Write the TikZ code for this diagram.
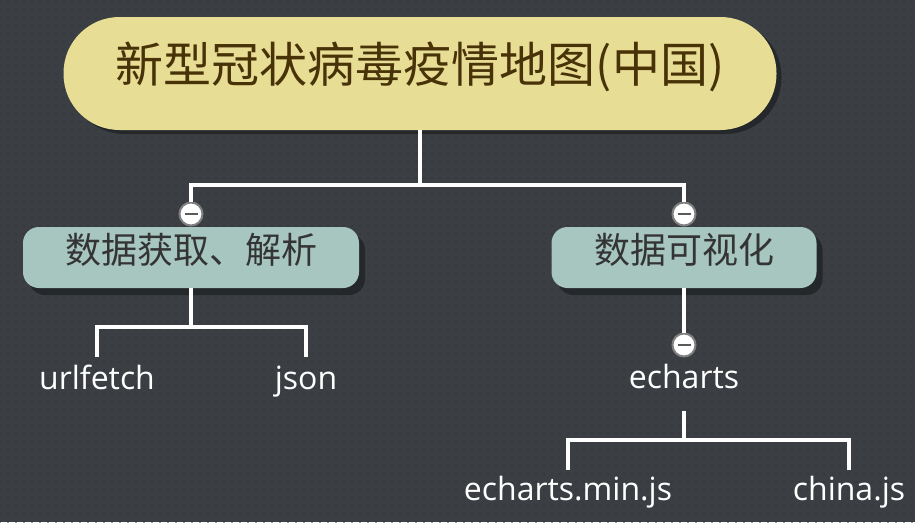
\documentclass[tikz,border=0pt]{standalone}
\usepackage{fontspec}
\setmainfont{Open Sans}
\newfontfamily\cjk{Noto Sans CJK SC}
\usetikzlibrary{shadows,patterns.meta}

\begin{document}
\begin{tikzpicture}[
    x=1pt, y=-1pt,
    root/.style={
        rectangle,
        rounded corners=56pt,
        fill=rootfill,
        minimum width=713pt,
        minimum height=113pt,
        text=roottext,
        font=\cjk\fontsize{48}{52}\selectfont,
        text height=34pt, text depth=16pt,
        drop shadow={shadow xshift=5pt, shadow yshift=-4pt, opacity=1, fill=shadowcol}
    },
    topic/.style={
        rectangle,
        rounded corners=16pt,
        fill=topicfill,
        minimum height=61pt,
        text=topictext,
        font=\cjk\fontsize{36}{40}\selectfont,
        text height=26pt, text depth=14pt,
        drop shadow={shadow xshift=6pt, shadow yshift=-7pt, opacity=1, fill=shadowcol}
    },
    fold/.style={
        circle,
        draw=foldgray,
        line width=2pt,
        fill=white,
        minimum size=23pt,
        inner sep=0pt,
        path picture={
            \draw[line width=2pt, foldline]
                ([xshift=-6.5pt]path picture bounding box.center) --
                ([xshift=6.5pt]path picture bounding box.center);
        }
    },
    leaf/.style={
        text=white,
        font=\fontsize{32}{36}\selectfont,
        inner sep=0pt,
        text height=26pt, text depth=8pt,
        anchor=base
    },
    conn/.style={draw=white, line width=4.2pt}
]

% 색 정의
\definecolor{bgcol}{RGB}{59,63,67}
\definecolor{dotcol}{RGB}{48,52,56}
\definecolor{rootfill}{RGB}{232,221,148}
\definecolor{roottext}{RGB}{72,50,8}
\definecolor{topicfill}{RGB}{166,198,191}
\definecolor{topictext}{RGB}{52,52,52}
\definecolor{shadowcol}{RGB}{36,40,43}
\definecolor{foldgray}{RGB}{128,128,128}
\definecolor{foldline}{RGB}{90,90,90}

% 배경
\useasboundingbox (0,0) rectangle (915,522);
\fill[bgcol] (0,0) rectangle (915,522);
\fill[pattern={Dots[distance=8pt, radius=0.9pt]}, pattern color=dotcol] (0,0) rectangle (915,522);

% 노드
\node[root] (root) at (420,73.5) {新型冠状病毒疫情地图(中国)};

\node[topic, minimum width=336pt] (fetch) at (191,257.5) {数据获取、解析};
\node[topic, minimum width=265pt] (vis) at (684,257.5) {数据可视化};

\node[fold] (f1) at (191,214) {};
\node[fold] (f2) at (684,214) {};
\node[fold] (f3) at (684,345) {};

\node[leaf] (urlfetch) at (97,389) {urlfetch};
\node[leaf] (json) at (306,389) {json};
\node[leaf] (echarts) at (684,388) {echarts};
\node[leaf] (minjs) at (568,500) {echarts.min.js};
\node[leaf] (chinajs) at (849,500) {china.js};

% 간선
\draw[conn] (root.south) -- ++(0,55) coordinate (fork1);
\draw[conn] (f1.north) |- (fork1) -| (f2.north);

\draw[conn] (fetch.south) -- ++(0,39) coordinate (fork2);
\draw[conn, shorten <=6pt, shorten >=6pt] (urlfetch.north) |- (fork2) -| (json.north);

\draw[conn] (vis.south) -- (f3.north);

\draw[conn, shorten <=15pt] (echarts.south) -- ++(0,44) coordinate (fork3);
\draw[conn, shorten <=4pt, shorten >=4pt] (minjs.north) |- (fork3) -| (chinajs.north);

\end{tikzpicture}
\end{document}
